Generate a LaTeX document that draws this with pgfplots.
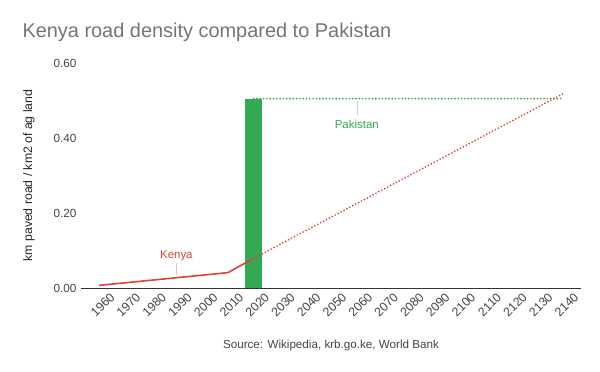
\documentclass[border=0pt]{standalone}
\usepackage{fontspec}
\setmainfont{Liberation Sans}
\usepackage{pgfplots}
\pgfplotsset{compat=1.18}
\definecolor{kred}{HTML}{DB4437}
\definecolor{pgreen}{HTML}{34A853}
\definecolor{ttl}{HTML}{757575}
\definecolor{tick}{HTML}{444444}
\definecolor{lead}{HTML}{CCCCCC}
\begin{document}
\begin{tikzpicture}[x=1bp,y=1bp]
\path[use as bounding box] (0,0) rectangle (600,371);
\begin{axis}[
  at={(81bp,83bp)}, anchor=south west,
  scale only axis, width=500bp, height=225bp,
  xmin=1953, xmax=2147, ymin=0, ymax=0.6,
  axis lines=left, axis line style={-},
  y axis line style={draw=none},
  x axis line style={draw=black!80, line width=0.8bp},
  major tick length=0,
  xtick={1960,1970,...,2140},
  ytick={0,0.2,0.4,0.6},
  xticklabel style={rotate=45, anchor=north east, xshift=5.5bp, yshift=-9bp, inner sep=1bp, font=\fontsize{12.4}{14}\selectfont, text=tick, /pgf/number format/1000 sep={}},
  yticklabel style={xshift=-1bp, font=\fontsize{11.8}{13}\selectfont, text=tick, /pgf/number format/fixed, /pgf/number format/fixed zerofill, /pgf/number format/precision=2},
  /pgf/number format/assume math mode=true,
  every axis x label/.style={at={(axis description cs:0.5,0)}, yshift=-57bp, anchor=center, font=\fontsize{11.7}{13}\selectfont, text=tick},
  every axis y label/.style={at={(axis description cs:0,0.5)}, xshift=-52bp, rotate=90, anchor=center, font=\fontsize{12.3}{14}\selectfont, text=black!85},
  xlabel={Source: Wikipedia, krb.go.ke, World Bank},
  ylabel={km paved road / km2 of ag land},
  clip=false,
]
\addplot[pgreen, line width=1.9bp, line cap=round, dash pattern=on 0bp off 3.3bp] coordinates {(2020,0.505) (2140,0.505)};
\addplot[ybar, bar width=17bp, fill=pgreen, draw=none] coordinates {(2020,0.503)};
\addplot[kred, line width=1.6bp] coordinates {(1960,0.007) (2010,0.041) (2020,0.079)};
\addplot[kred, line width=1.9bp, line cap=round, dash pattern=on 0bp off 3.3bp] coordinates {(2020,0.079) (2140,0.518)};
\draw[lead, line width=0.5bp] (axis cs:1990,0.035) -- (axis cs:1990,0.068);
\draw[lead, line width=0.5bp] (axis cs:2060,0.498) -- (axis cs:2060,0.462);
\node[text=kred, font=\fontsize{11.5}{13}\selectfont] at (axis cs:1990,0.085) {Kenya};
\node[text=pgreen, font=\fontsize{11.5}{13}\selectfont] at (axis cs:2060,0.435) {Pakistan};
\end{axis}
\node[anchor=base west, text=ttl, font=\fontsize{20}{23}\selectfont] at (19,333.5) {Kenya road density compared to Pakistan};
\end{tikzpicture}
\end{document}
